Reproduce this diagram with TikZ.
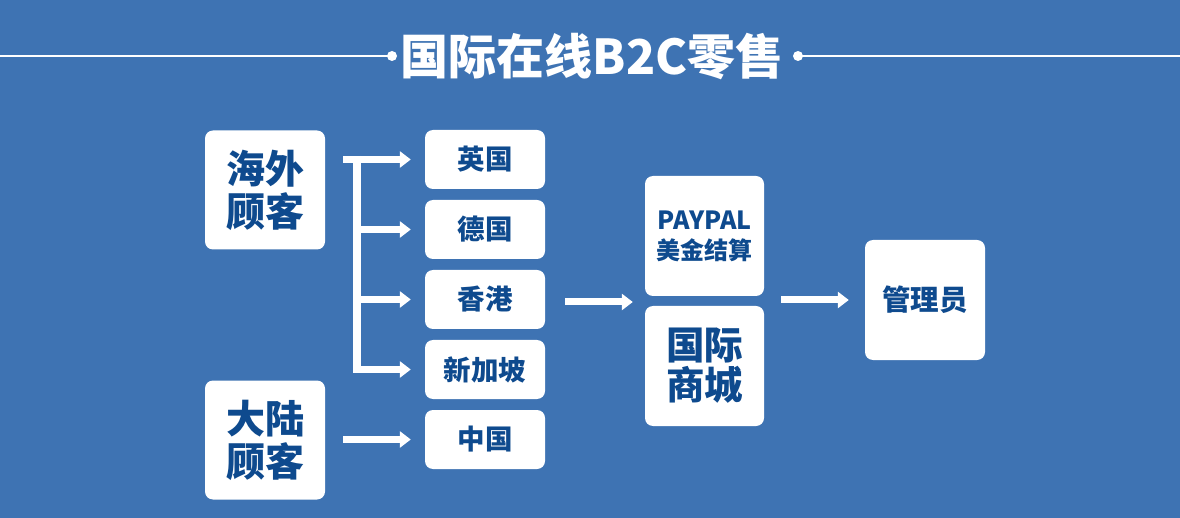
\documentclass[tikz,border=0pt]{standalone}
\usepackage{fontspec}
\setmainfont{Noto Sans CJK SC}[BoldFont={Noto Sans CJK SC Black}]
\usetikzlibrary{arrows.meta,calc}
\definecolor{bg}{RGB}{62,115,179}
\definecolor{ink}{RGB}{14,74,142}
\tikzset{
  box/.style={fill=white, rounded corners=8pt, inner sep=0pt, align=center, text=ink, font=\bfseries},
  arr/.style={draw=white, line width=7pt, -{Triangle[length=11pt,width=16pt]}},
  bar/.style={draw=white, line width=7.5pt, line cap=butt},
}
\begin{document}
\begin{tikzpicture}[x=1pt,y=-1pt]
\fill[bg] (0,0) rectangle (1180,518);
\useasboundingbox (0,0) rectangle (1180,518);
% title
\node[text=white, font=\bfseries\fontsize{48}{48}\selectfont, inner sep=0pt] (title) at (592,57) {国际在线B2C零售};
\coordinate (dl) at (392,56);
\coordinate (dr) at (798,56);
\coordinate (ll) at (0,56);
\coordinate (lr) at (1180,56);
\draw[white, line width=2.2pt] (ll) -- (dl);
\draw[white, line width=2.2pt] (dr) -- (lr);
\fill[white] (dl) circle (5pt);
\fill[white] (dr) circle (5pt);
% customer boxes
\node[box, minimum width=120pt, minimum height=119pt, font=\bfseries\fontsize{39}{43}\selectfont] (hw) at (265,190) {海外\\顾客};
\node[box, minimum width=120pt, minimum height=119pt, font=\bfseries\fontsize{39}{43}\selectfont] (dl2) at (265,440) {大陆\\顾客};
% country boxes
\tikzset{cty/.style={box, minimum width=120pt, minimum height=59pt, font=\bfseries\fontsize{27.5}{30}\selectfont}}
\node[cty] (yg) at (485,159.5) {英国};
\node[cty] (dg) at (485,229.5) {德国};
\node[cty] (xg) at (485,299.5) {香港};
\node[cty] (xjp) at (485,369.5) {新加坡};
\node[cty] (zg) at (485,439.5) {中国};
% payment boxes
\node[box, minimum width=119pt, minimum height=120pt, font=\bfseries\fontsize{24}{30}\selectfont] (pp) at (704.5,236) {{\fontsize{25}{30}\selectfont PAYPAL}\\美金结算};
\node[box, minimum width=119pt, minimum height=120pt, font=\bfseries\fontsize{38.5}{40}\selectfont] (gj) at (704.5,366) {国际\\商城};
\node[box, minimum width=120pt, minimum height=120pt, font=\bfseries\fontsize{28.5}{30}\selectfont] (gly) at (925,300) {管理员};
% bracket
\coordinate (br) at ($(hw.east |- yg.west)+(32,0)$);
\draw[arr, shorten >=14pt] ($(hw.east |- yg.west)+(18,0)$) -- (yg.west);
\draw[bar] ($(br)+(0,-3.5)$) -- ($(br |- xjp.west)+(0,3.5)$);
\draw[arr, shorten >=14pt] ($(br |- dg.west)+(-3.5,0)$) -- (dg.west);
\draw[arr, shorten >=14pt] ($(br |- xg.west)+(-3.5,0)$) -- (xg.west);
\draw[arr, shorten >=14pt] ($(br |- xjp.west)+(-3.5,0)$) -- (xjp.west);
\draw[arr, shorten >=14pt] ($(dl2.east |- zg.west)+(18,0)$) -- (zg.west);
% to shop
\coordinate (mid) at ($(pp.south west)!0.5!(gj.north west)+(0,1)$);
\draw[arr, shorten >=12pt] ($(xg.east |- mid)+(20,0)$) -- (mid);
\draw[arr, shorten >=16pt, shorten <=17pt] (pp.east |- gly.west) -- (gly.west);
\end{tikzpicture}
\end{document}
